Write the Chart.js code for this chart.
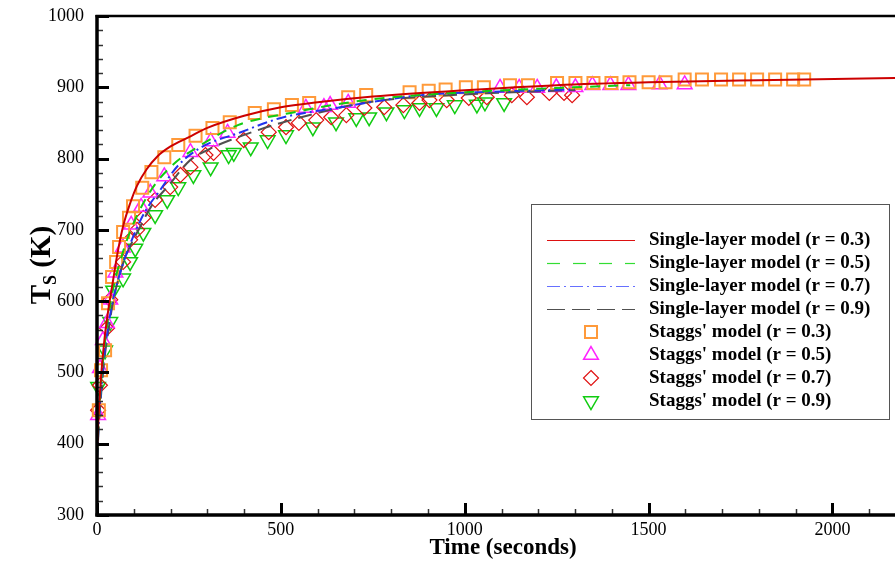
<!DOCTYPE html>
<html><head><meta charset="utf-8">
<script src="https://cdn.jsdelivr.net/npm/chart.js@4.4.1/dist/chart.umd.min.js"></script>
<style>html,body{margin:0;padding:0;background:#fff;}canvas{display:block;}</style>
</head><body>
<canvas id="c" width="895" height="563"></canvas>
<script>
// ---- tick labels ----
const xTickLabels = [0, 500, 1000, 1500, 2000];
const yTickLabels = [300, 400, 500, 600, 700, 800, 900, 1000];

// ---- Single-layer model curves ----
const lineT03  = [0,5,10,20,30,44,55,71,90,109,135,164,200,250,300,400,500,600,750,1000,1250,1500,1800,2170];
const lineTs03 = [390,445,487,545,585,630,665,705,737,762,785,803,817,830,843,860,872,879,887,896,903,907,910,913];
const lineT05  = [0,5,10,20,30,45,70,100,150,208,273,383,454,527,650,781,1000,1200,1450];
const lineTs05 = [385,438,478,535,575,620,668,710,758,792,816,847,857,864,876,885,893,898,903];
const lineT07  = [0,5,10,20,30,45,68,98,130,172,220,281,391,500,650,883,1100,1300];
const lineTs07 = [380,430,468,525,563,605,648,690,725,756,790,815,837,857,871,889,894,897];
const lineT09  = [0,5,10,20,30,44,71,117,150,191,254,300,363,500,738,1000,1300];
const lineTs09 = [375,425,462,518,555,600,653,704,735,760,798,812,826,850,879,890,896];

// ---- Staggs' model points ----
const sqT  = [5,11,22,30,41,52,60,71,87,98,123,148,183,221,268,314,361,429,481,530,577,683,732,850,902,948,1003,1052,1123,1172,1251,1301,1350,1399,1448,1500,1546,1598,1645,1697,1746,1795,1844,1893,1923];
const sqTs = [447,503,531,597,634,655,676,697,717,733,759,781,802,819,832,843,851,864,869,875,878,886,889,893,895,897,900,900,903,903,906,906,906,906,907,907,907,911,911,911,911,911,911,911,911];
const triT  = [3,8,16,27,36,50,70,93,120,145,183,254,309,355,568,617,634,683,1096,1148,1197,1249,1301,1347,1396,1445,1530,1598];
const triTs = [440,506,545,569,602,640,675,707,732,752,775,809,824,836,871,872,875,878,899,899,899,900,900,903,903,903,904,904];
const diaT  = [3,8,27,36,71,90,109,126,158,199,227,254,295,317,399,467,514,549,596,637,678,727,781,833,877,904,951,1011,1060,1128,1169,1230,1270,1292];
const diaTs = [447,482,562,602,655,686,700,717,742,760,777,788,805,808,826,837,844,850,854,858,861,871,872,875,878,882,882,885,886,889,886,892,892,889];
const invT  = [3,22,36,44,71,90,104,126,158,191,221,262,309,358,372,418,464,514,587,650,705,740,787,836,877,923,973,1033,1055,1107];
const invTs = [480,531,571,615,632,655,674,696,721,742,760,777,788,805,808,816,826,833,844,851,857,858,865,868,871,871,875,876,879,878];

const pts = (xs, ys) => xs.map((v, i) => ({x: v, y: ys[i]}));
const SERIF = '"Liberation Serif", "Times New Roman", serif';

function lineDs(label, xs, ys, color, dash, legendColor, legendDash) {
  return {label, data: pts(xs, ys), type: 'line', borderColor: color, borderWidth: 2,
    borderDash: dash, pointRadius: 0, fill: false, cubicInterpolationMode: 'monotone',
    legendColor: legendColor || color, legendDash: legendDash || dash};
}
function markDs(label, xs, ys, color, style, radius, rot, bw) {
  return {label, data: pts(xs, ys), type: 'scatter', showLine: false, borderColor: color,
    backgroundColor: 'rgba(0,0,0,0)', pointStyle: style, pointRadius: radius, pointRotation: rot,
    pointBorderWidth: bw, pointHoverRadius: radius, clip: false};
}

const datasets = [
  lineDs('Single-layer model (r = 0.3)', lineT03, lineTs03, '#cc0000', [], '#dd1111'),
  lineDs('Single-layer model (r = 0.5)', lineT05, lineTs05, '#11cc11', [10, 8], '#33dd33', [13, 13]),
  lineDs('Single-layer model (r = 0.7)', lineT07, lineTs07, '#2233ee', [10, 4, 2, 4], '#6670ff', [13, 4, 2, 4]),
  lineDs('Single-layer model (r = 0.9)', lineT09, lineTs09, '#505050', [14, 7], '#505050', [18, 7]),
  markDs("Staggs' model (r = 0.3)", sqT, sqTs, '#ff9a3a', 'rect', 8.5, 0, 2),
  markDs("Staggs' model (r = 0.5)", triT, triTs, '#ff22ff', 'triangle', 8.5, 0, 1.5),
  markDs("Staggs' model (r = 0.7)", diaT, diaTs, '#e01010', 'rectRot', 7.5, 0, 1.2),
  markDs("Staggs' model (r = 0.9)", invT, invTs, '#11cc11', 'triangle', 8.5, 180, 1.5)
];

function drawMarker(ctx, style, x, y, r, rot) {
  ctx.beginPath();
  if (style === 'rect') {
    const s = Math.SQRT1_2 * r;
    ctx.rect(x - s, y - s, 2 * s, 2 * s);
  } else if (style === 'rectRot') {
    ctx.moveTo(x, y - r); ctx.lineTo(x + r, y); ctx.lineTo(x, y + r); ctx.lineTo(x - r, y); ctx.closePath();
  } else {
    let a = rot * Math.PI / 180;
    for (let k = 0; k < 3; k++) {
      const px = x + Math.sin(a) * r, py = y - Math.cos(a) * r;
      if (k === 0) ctx.moveTo(px, py); else ctx.lineTo(px, py);
      a += 2 * Math.PI / 3;
    }
    ctx.closePath();
  }
  ctx.stroke();
}

const framePlugin = {
  id: 'framePlugin',
  afterDraw(chart) {
    const {ctx, chartArea: a, scales: {x, y}} = chart;
    ctx.save();
    ctx.strokeStyle = '#000';
    for (let v = y.min; v <= y.max + 0.001; v += 20) {
      const py = Math.round(y.getPixelForValue(v)) + 0.5;
      const major = v % 100 === 0;
      ctx.lineWidth = major ? 3 : 1.5;
      ctx.strokeStyle = major ? '#000' : '#333';
      ctx.beginPath(); ctx.moveTo(a.left, py); ctx.lineTo(a.left + (major ? 12 : 6), py); ctx.stroke();
    }
    for (let v = 0; v <= x.max + 0.001; v += 100) {
      const px = Math.round(x.getPixelForValue(v)) + 0.5;
      const major = v % 500 === 0;
      ctx.lineWidth = major ? 3 : 1.5;
      ctx.strokeStyle = major ? '#000' : '#333';
      ctx.beginPath(); ctx.moveTo(px, a.bottom); ctx.lineTo(px, a.bottom - (major ? 12 : 6)); ctx.stroke();
    }
    ctx.strokeStyle = '#000';
    ctx.lineWidth = 3.5;
    ctx.beginPath(); ctx.moveTo(a.left, a.top - 1); ctx.lineTo(a.left, a.bottom + 1.5); ctx.stroke();
    ctx.beginPath(); ctx.moveTo(a.left - 1.5, a.bottom); ctx.lineTo(a.right, a.bottom); ctx.stroke();
    ctx.lineWidth = 2.5;
    ctx.beginPath(); ctx.moveTo(a.left - 1.5, a.top); ctx.lineTo(a.right, a.top); ctx.stroke();

    // x-axis title
    ctx.fillStyle = '#000';
    ctx.font = 'bold 23px ' + SERIF;
    ctx.textAlign = 'center';
    ctx.textBaseline = 'middle';
    ctx.fillText('Time (seconds)', 503, 548);
    ctx.textAlign = 'left';

    // y-axis title  T_S (K)
    ctx.save();
    ctx.translate(40, 265);
    ctx.rotate(-Math.PI / 2);
    ctx.fillStyle = '#000';
    ctx.textBaseline = 'alphabetic';
    const big = 'bold 29px ' + SERIF, small = 'bold 18px ' + SERIF;
    ctx.font = big; const wT = ctx.measureText('T').width; const wK = ctx.measureText(' (K)').width;
    ctx.font = small; const wS = ctx.measureText('S').width;
    let sx = -(wT + wS + wK) / 2;
    const base = 10;
    ctx.font = big; ctx.fillText('T', sx, base); sx += wT;
    ctx.font = small; ctx.fillText('S', sx, base + 6); sx += wS;
    ctx.font = big; ctx.fillText(' (K)', sx, base);
    ctx.restore();

    // legend box
    const L = 531, T = 204, R = 889, B = 419;
    ctx.fillStyle = '#fff';
    ctx.fillRect(L, T, R - L, B - T);
    ctx.strokeStyle = '#555'; ctx.lineWidth = 1;
    ctx.strokeRect(L + 0.5, T + 0.5, R - L, B - T);
    const rowY0 = 240, rowDy = 23;
    chart.data.datasets.forEach((ds, i) => {
      const cy = rowY0 + i * rowDy;
      if (ds.type === 'line') {
        ctx.save();
        ctx.strokeStyle = ds.legendColor; ctx.lineWidth = 1.2;
        ctx.setLineDash(ds.legendDash || []);
        ctx.beginPath(); ctx.moveTo(547, cy + 0.5); ctx.lineTo(635, cy + 0.5); ctx.stroke();
        ctx.restore();
      } else {
        ctx.save();
        ctx.strokeStyle = ds.borderColor; ctx.lineWidth = ds.pointBorderWidth;
        drawMarker(ctx, ds.pointStyle, 591, cy, ds.pointRadius, ds.pointRotation);
        ctx.restore();
      }
      ctx.fillStyle = '#000';
      ctx.font = 'bold 19px ' + SERIF;
      ctx.textBaseline = 'middle';
      ctx.fillText(ds.label, 649, cy);
    });
    ctx.restore();
  }
};

const zeroPad = s => { s.paddingLeft = 0; s.paddingRight = 0; s.paddingTop = 0; s.paddingBottom = 0; };

new Chart(document.getElementById('c'), {
  type: 'scatter',
  data: {datasets},
  options: {
    responsive: false,
    animation: false,
    devicePixelRatio: 1,
    layout: {autoPadding: false, padding: {top: 16, right: 0, left: 0, bottom: 0}},
    plugins: {legend: {display: false}, tooltip: {enabled: false}},
    scales: {
      x: {
        type: 'linear', min: 0, max: 2170,
        afterBuildTicks: s => { s.ticks = xTickLabels.map(v => ({value: v})); },
        afterFit: s => { s.height = 48; zeroPad(s); },
        grid: {display: false, drawTicks: false},
        border: {display: false},
        ticks: {color: '#000', font: {family: SERIF, size: 18}, padding: 4, maxRotation: 0,
          callback: v => String(v)},
        title: {display: false}
      },
      y: {
        type: 'linear', min: 300, max: 1000,
        afterBuildTicks: s => { s.ticks = yTickLabels.map(v => ({value: v})); },
        afterFit: s => { s.width = 97; zeroPad(s); },
        grid: {display: false, drawTicks: false},
        border: {display: false},
        ticks: {color: '#000', font: {family: SERIF, size: 18}, padding: 13,
          callback: v => String(v)}
      }
    }
  },
  plugins: [framePlugin]
});
</script>
</body></html>
